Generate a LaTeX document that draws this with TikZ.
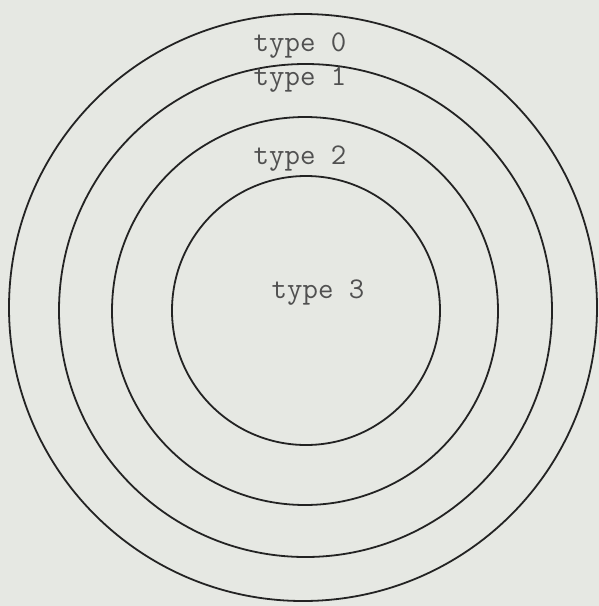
\documentclass[tikz,border=0pt]{standalone}
\definecolor{paper}{RGB}{230,232,227}
\definecolor{ink}{RGB}{35,35,35}
\definecolor{typeink}{RGB}{80,80,80}
\begin{document}
\begin{tikzpicture}[x=1pt,y=-1pt,
  ring/.style={draw=ink,line width=1.8pt},
  lbl/.style={text=typeink,font=\ttfamily\fontsize{30}{30}\selectfont,inner sep=0pt}]
\fill[paper] (0,0) rectangle (599,606);
\useasboundingbox (0,0) rectangle (599,606);
\draw[ring] (303,307.5) ellipse [x radius=294,y radius=293.5];
\draw[ring] (305.5,310.5) ellipse [x radius=246.5,y radius=246.5];
\draw[ring] (305,311) ellipse [x radius=193,y radius=194];
\draw[ring] (306,310.5) ellipse [x radius=134,y radius=134.5];
\node[lbl] (t0) at (300,46) {type 0};
\node[lbl] (t1) at (300,80) {type 1};
\node[lbl] (t2) at (300,159) {type 2};
\node[lbl] (t3) at (318,293) {type 3};
\end{tikzpicture}
\end{document}
